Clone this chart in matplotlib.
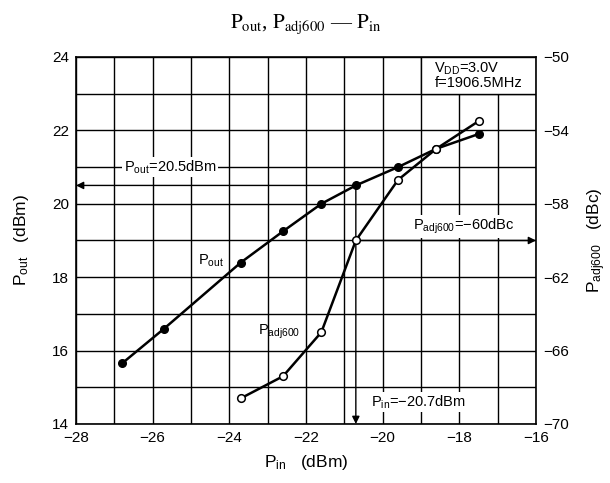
import matplotlib.pyplot as plt
from matplotlib.patches import Rectangle

plt.rcParams['font.family'] = ['Liberation Sans', 'DejaVu Sans']
plt.rcParams['mathtext.fontset'] = 'custom'
plt.rcParams['mathtext.rm'] = 'Liberation Sans'
plt.rcParams['mathtext.it'] = 'Liberation Sans:italic'

# input power (dBm)
pin_out = [-26.8, -25.7, -23.7, -22.6, -21.6, -20.7, -19.6, -18.6, -17.5]
pout = [15.65, 16.6, 18.4, 19.25, 20.0, 20.5, 21.0, 21.5, 21.9]

pin_adj = [-23.7, -22.6, -21.6, -20.7, -19.6, -18.6, -17.5]
padj600 = [-68.6, -67.4, -65.0, -60.0, -56.7, -55.0, -53.5]

x_ticks = [-28, -26, -24, -22, -20, -18, -16]
y_ticks = [14, 16, 18, 20, 22, 24]
y2_ticks = [-70, -66, -62, -58, -54, -50]

pin_mark = -20.7
pout_mark = 20.5
padj_mark = -60

fig = plt.figure(figsize=(6.1, 4.83), dpi=100)

ax = fig.add_axes([0.1246, 0.1222, 0.7541, 0.7598])
ax.set_xlim(-28, -16)
ax.set_ylim(14, 24)

ax.set_xticks(range(-28, -15))
ax.set_xticklabels([str(v).replace('-', '\u2212') if v in x_ticks else '' for v in range(-28, -15)])
ax.set_yticks(range(14, 25))
ax.set_yticklabels([str(v) if v in y_ticks else '' for v in range(14, 25)])
ax.tick_params(length=0, labelsize=11, pad=5)
ax.grid(True, color='black', linewidth=1.0)
ax.set_axisbelow(True)
for sp in ax.spines.values():
    sp.set_linewidth(1.2)

# condition box in the top right corner
ax.add_patch(Rectangle((-19, 23), 3, 1, facecolor='white', edgecolor='black',
                       linewidth=1.0, zorder=1.5))
ax.text(-18.65, 23.68, r'V$_{\mathrm{DD}}$=3.0V', fontsize=10.5, va='center', zorder=3)
ax.text(-18.65, 23.3, 'f=1906.5MHz', fontsize=10.5, va='center', zorder=3)

# Pout / Padj curves (Padj drawn on the left axis scale)
padj_left = [(v + 98) / 2 for v in padj600]
ax.plot(pin_out, pout, color='black', linewidth=1.8, marker='o', markersize=5.5,
        markerfacecolor='black', zorder=4)
ax.plot(pin_adj, padj_left, color='black', linewidth=1.8, marker='o', markersize=5.5,
        markerfacecolor='white', markeredgewidth=1.1, zorder=5)

# guide arrows
ap = dict(arrowstyle='-|>', color='black', linewidth=1.0, mutation_scale=11,
          shrinkA=0, shrinkB=0)
ax.annotate('', xy=(-28, pout_mark), xytext=(pin_mark, pout_mark), arrowprops=ap, zorder=3)
ax.annotate('', xy=(-16, (padj_mark + 98) / 2), xytext=(pin_mark, (padj_mark + 98) / 2),
            arrowprops=ap, zorder=3)
ax.annotate('', xy=(pin_mark, 14), xytext=(pin_mark, pout_mark), arrowprops=ap, zorder=3)

bb = dict(facecolor='white', edgecolor='none', pad=1)
ax.text(-26.75, 21.0, r'P$_{\mathrm{out}}$=20.5dBm', fontsize=10.5, va='center', bbox=bb, zorder=3)
ax.text(-19.2, 19.38, 'P$_{\\mathrm{adj600}}$=\u221260dBc', fontsize=10.5, va='center', bbox=bb, zorder=3)
ax.text(-20.3, 14.6, 'P$_{\\mathrm{in}}$=\u221220.7dBm', fontsize=10.5, va='center', bbox=bb, zorder=3)
ax.text(-24.82, 18.45, r'P$_{\mathrm{out}}$', fontsize=10.5, va='center', zorder=3)
ax.text(-23.25, 16.5, r'P$_{\mathrm{adj600}}$', fontsize=10.5, va='center', zorder=3)

ax.set_xlabel(r'P$_{\mathrm{in}}$   (dBm)', fontsize=12.5, labelpad=6)
ax.set_ylabel(r'P$_{\mathrm{out}}$   (dBm)', fontsize=12.5, labelpad=15)

ax2 = ax.twinx()
ax2.set_ylim(-70, -50)
ax2.set_yticks(y2_ticks)
ax2.set_yticklabels([str(v).replace('-', '\u2212') for v in y2_ticks])
ax2.tick_params(length=0, labelsize=11, pad=5)
for sp in ax2.spines.values():
    sp.set_visible(False)
ax2.set_ylabel(r'P$_{\mathrm{adj600}}$   (dBc)', fontsize=12.5, labelpad=12)

ax.set_title(r'$\mathrm{P_{out}}$, $\mathrm{P_{adj600}}$ — $\mathrm{P_{in}}$',
             fontsize=15, family='Liberation Serif', math_fontfamily='stix', pad=21)

plt.savefig('out.png', dpi=100)
